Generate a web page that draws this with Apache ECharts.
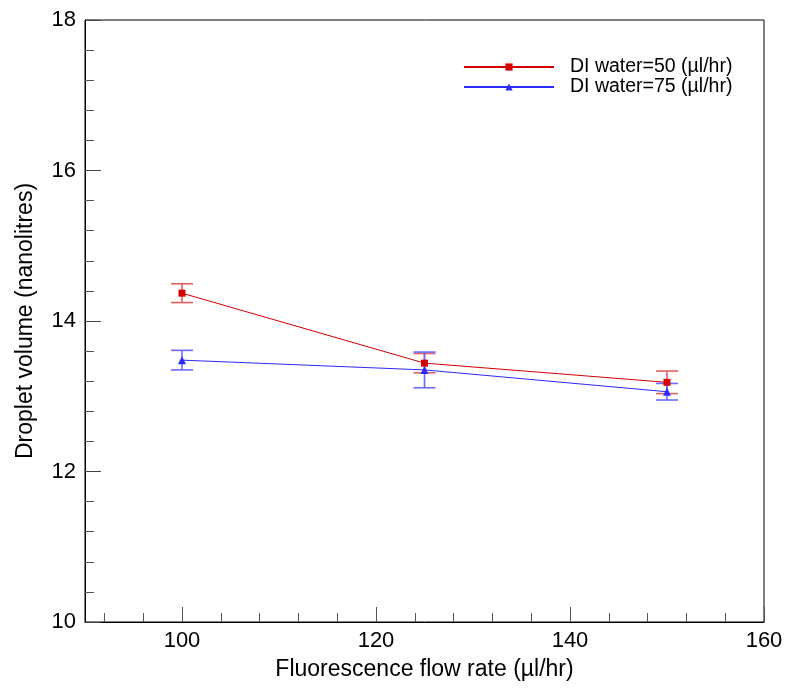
<!DOCTYPE html>
<html>
<head>
<meta charset="utf-8">
<script src="https://cdn.jsdelivr.net/npm/echarts@6/dist/echarts.min.js"></script>
<style>html,body{margin:0;padding:0;background:#fff;}#chart{width:786px;height:688px;}</style>
</head>
<body>
<div id="chart"></div>
<script>
const xValues = [100, 125, 150];
const series50 = [14.37, 13.44, 13.185];
const err50 = [0.125, 0.128, 0.15];
const series75 = [13.48, 13.35, 13.06];
const err75 = [0.13, 0.237, 0.11];
const seriesNames = ['DI water=50 (\u00b5l/hr)', 'DI water=75 (\u00b5l/hr)'];
const xMajorTicks = [100, 120, 140, 160];
const xMinorTicks = [92, 96, 104, 108, 112, 116, 124, 128, 132, 136, 144, 148, 152, 156];

const FONT = "'Liberation Sans', Arial, sans-serif";
const RED = '#d40000', BLUE = '#2a2aff';
const RED_ERR = '#e26060', BLUE_ERR = '#6a6aff';

function pts(ys) { return xValues.map((x, i) => [x, ys[i]]); }
function errData(ys, es) { return xValues.map((x, i) => [x, ys[i] - es[i], ys[i] + es[i]]); }
function errRender(color) {
  return function (params, api) {
    const x = api.value(0), lo = api.value(1), hi = api.value(2);
    const a = api.coord([x, lo]), b = api.coord([x, hi]);
    const hw = 11;
    const st = { stroke: color, lineWidth: 1.6 };
    return { type: 'group', children: [
      { type: 'line', shape: { x1: a[0], y1: a[1], x2: b[0], y2: b[1] }, style: st },
      { type: 'line', shape: { x1: a[0] - hw, y1: a[1], x2: a[0] + hw, y2: a[1] }, style: st },
      { type: 'line', shape: { x1: b[0] - hw, y1: b[1], x2: b[0] + hw, y2: b[1] }, style: st }
    ] };
  };
}

const chart = echarts.init(document.getElementById('chart'), null, { renderer: 'canvas' });
const xBase = { type: 'value', min: 90, max: 160, position: 'bottom', splitLine: { show: false } };
chart.setOption({
  animation: false,
  backgroundColor: '#fff',
  textStyle: { fontFamily: FONT },
  grid: { left: 85, right: 22, top: 20, bottom: 66, show: true, borderColor: '#000', borderWidth: 1 },
  legend: {
    data: seriesNames,
    orient: 'vertical', left: 463, top: 57, padding: 0,
    itemWidth: 90, itemHeight: 9, itemGap: 0,
    textStyle: { fontFamily: FONT, fontSize: 19.5, lineHeight: 18.5, color: '#000', padding: [0, 0, 0, 11] }
  },
  xAxis: [
    Object.assign({}, xBase, {
      name: 'Fluorescence flow rate (\u00b5l/hr)', nameLocation: 'middle', nameGap: 36,
      nameTextStyle: { fontFamily: FONT, fontSize: 23, color: '#000' },
      axisLine: { show: true, lineStyle: { color: '#000', width: 1 } },
      axisTick: { show: true, inside: true, length: 9, customValues: xMinorTicks, lineStyle: { color: '#555' } },
      axisLabel: { customValues: xMajorTicks, fontFamily: FONT, fontSize: 22, color: '#000', margin: 8 }
    }),
    Object.assign({}, xBase, {
      axisLine: { show: false },
      axisTick: { show: true, inside: true, length: 15, customValues: xMajorTicks, lineStyle: { color: '#555' } },
      axisLabel: { show: false }
    })
  ],
  yAxis: {
    type: 'value', min: 10, max: 18, interval: 2,
    name: 'Droplet volume (nanolitres)', nameLocation: 'middle', nameGap: 48,
    nameTextStyle: { fontFamily: FONT, fontSize: 23, color: '#000' },
    axisLine: { show: true, lineStyle: { color: '#000', width: 1 } },
    axisTick: { show: true, inside: true, length: 16, lineStyle: { color: '#444', width: 1 } },
    minorTick: { show: true, splitNumber: 5, length: 9, lineStyle: { color: '#555' } },
    splitLine: { show: false }, minorSplitLine: { show: false },
    axisLabel: { fontFamily: FONT, fontSize: 22, color: '#000', margin: 9 }
  },
  series: [
    { type: 'custom', xAxisIndex: 0, renderItem: errRender(RED_ERR), data: errData(series50, err50), z: 1, silent: true, encode: { x: 0, y: [1, 2] } },
    { type: 'custom', xAxisIndex: 0, renderItem: errRender(BLUE_ERR), data: errData(series75, err75), z: 1, silent: true, encode: { x: 0, y: [1, 2] } },
    { name: seriesNames[0], type: 'line', xAxisIndex: 0, data: pts(series50), symbol: 'rect', symbolSize: 7,
      lineStyle: { color: RED, width: 1 }, itemStyle: { color: RED }, z: 3 },
    { name: seriesNames[1], type: 'line', xAxisIndex: 0, data: pts(series75), symbol: 'triangle', symbolSize: 8,
      lineStyle: { color: BLUE, width: 1 }, itemStyle: { color: BLUE }, z: 3 }
  ]
});
</script>
</body>
</html>
